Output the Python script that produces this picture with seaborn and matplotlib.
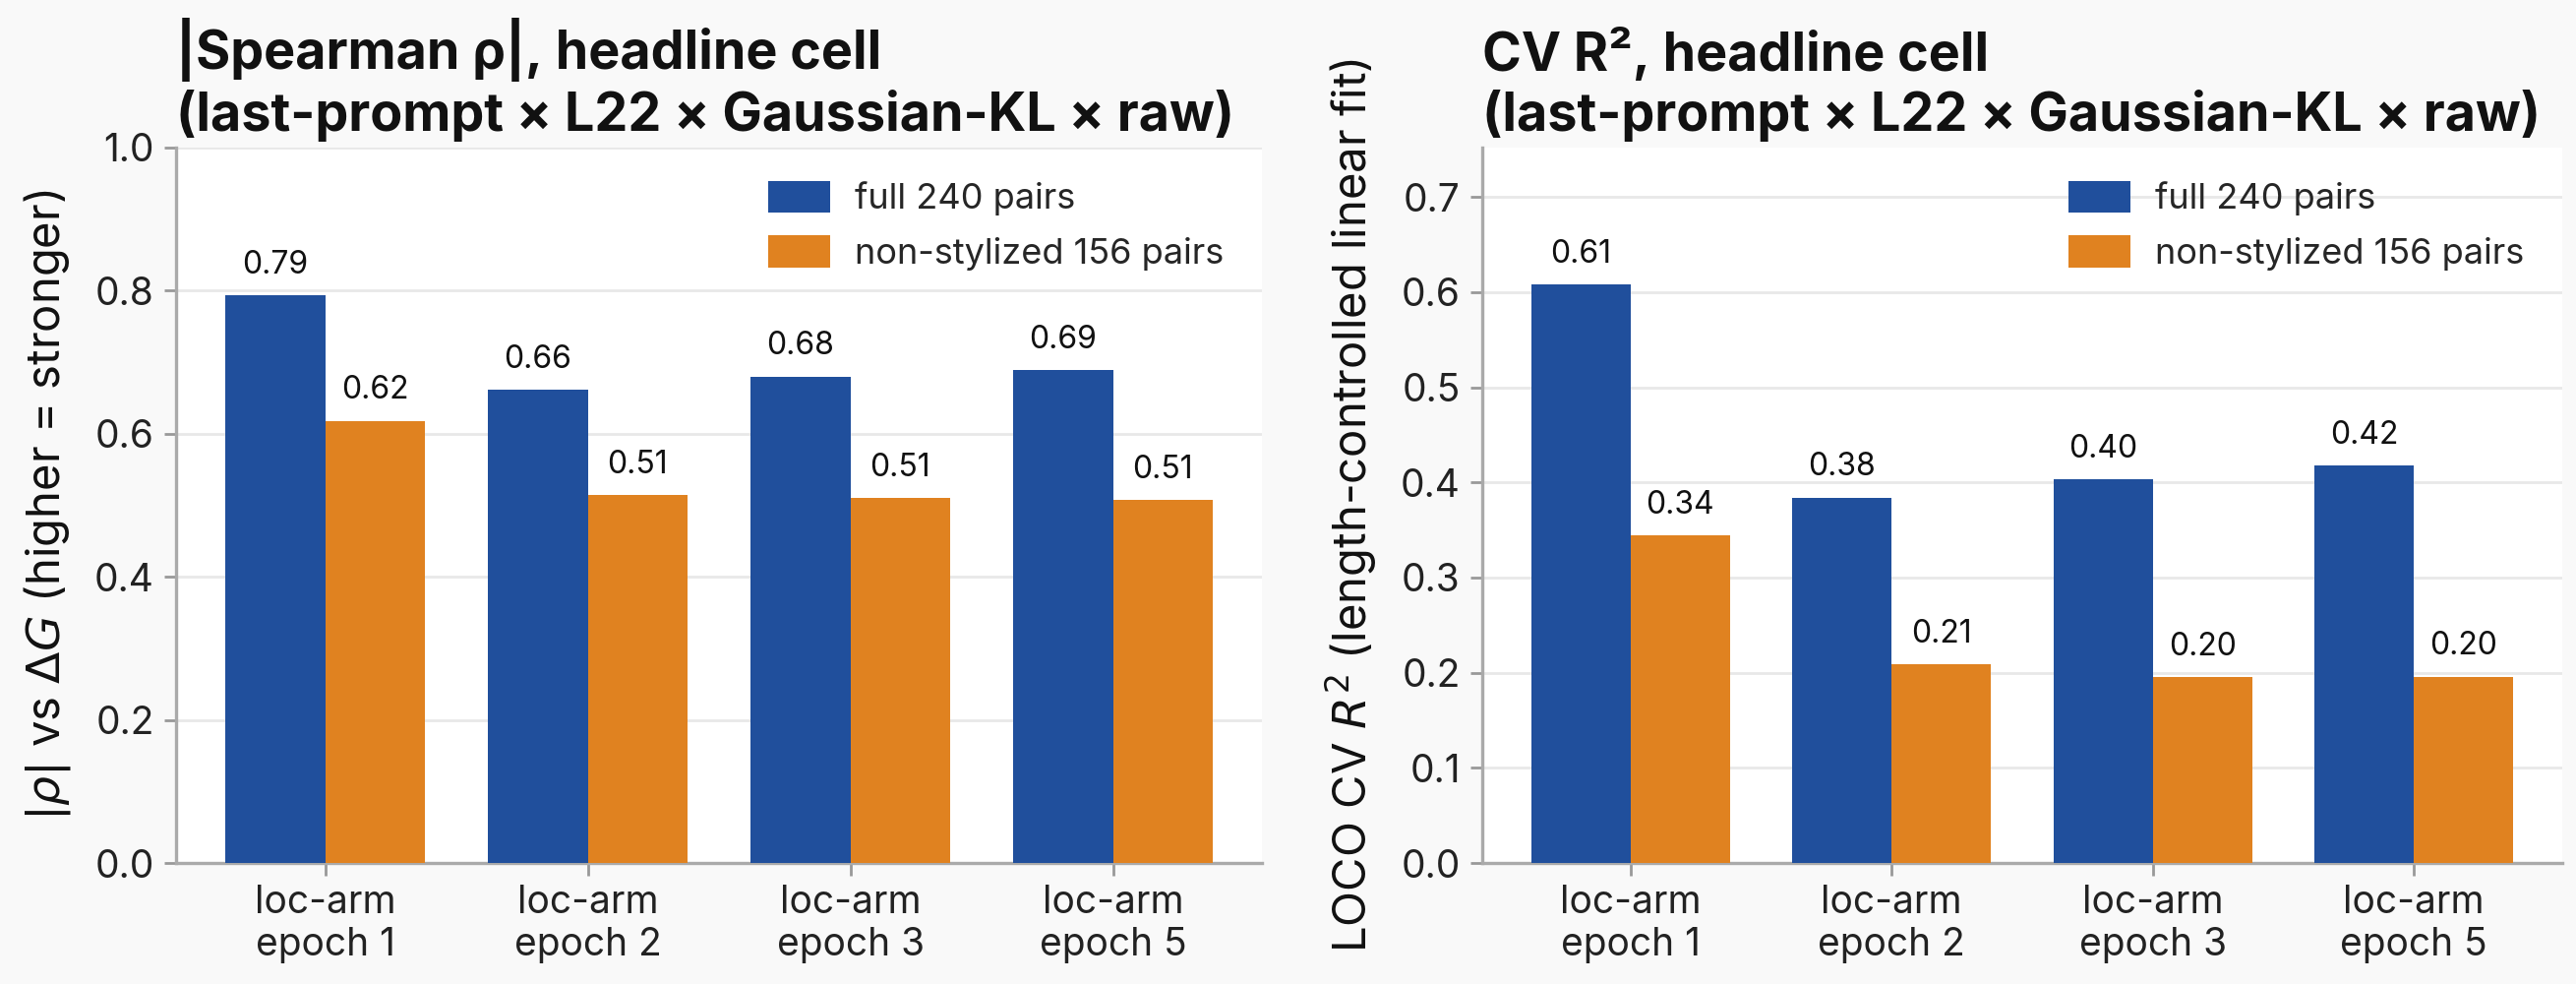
import matplotlib
matplotlib.use("Agg")
import matplotlib.pyplot as plt
import seaborn as sns
import pandas as pd

categories = ["loc-arm\nepoch 1", "loc-arm\nepoch 2", "loc-arm\nepoch 3", "loc-arm\nepoch 5"]
series_names = ["full 240 pairs", "non-stylized 156 pairs"]
rho_full = [0.793, 0.661, 0.680, 0.689]
rho_nonsty = [0.618, 0.514, 0.510, 0.507]
r2_full = [0.608, 0.384, 0.403, 0.418]
r2_nonsty = [0.344, 0.209, 0.195, 0.196]
colors = ["#204f9c", "#e08220"]

sns.set_theme(style="whitegrid")
plt.rcParams["font.family"] = ["Inter", "DejaVu Sans"]
plt.rcParams["mathtext.fontset"] = "dejavusans"

fig = plt.figure(figsize=(13.095, 5), dpi=200, facecolor="#f9f9f9")
axL = fig.add_axes([0.0683, 0.123, 0.4217, 0.727])
axR = fig.add_axes([0.5754, 0.123, 0.4193, 0.727])

def make_df(a, b):
    rows = []
    for c, v in zip(categories, a):
        rows.append((c, series_names[0], v))
    for c, v in zip(categories, b):
        rows.append((c, series_names[1], v))
    return pd.DataFrame(rows, columns=["cat", "series", "val"])

panels = [
    (axL, make_df(rho_full, rho_nonsty), 1.0, [0, 0.2, 0.4, 0.6, 0.8, 1.0],
     "|Spearman ρ|, headline cell\n(last-prompt × L22 × Gaussian-KL × raw)",
     r"$|\rho|$ vs $\Delta G$ (higher = stronger)"),
    (axR, make_df(r2_full, r2_nonsty), 0.752, [0, 0.1, 0.2, 0.3, 0.4, 0.5, 0.6, 0.7],
     "CV R², headline cell\n(last-prompt × L22 × Gaussian-KL × raw)",
     r"LOCO CV $R^2$ (length-controlled linear fit)"),
]

for ax, df, ytop, yt, title, ylabel in panels:
    ax.set_facecolor("white")
    sns.barplot(data=df, x="cat", y="val", hue="series", palette=colors,
                width=0.76, gap=0, saturation=1, ax=ax, errorbar=None, zorder=3,
                linewidth=0, edgecolor="none")
    for cont in ax.containers:
        for bar in cont:
            h = bar.get_height()
            ax.annotate(f"{h:.2f}", (bar.get_x() + bar.get_width() / 2, h),
                        xytext=(0, 5.5), textcoords="offset points",
                        ha="center", va="bottom", fontsize=11.5, color="#111111")
    ax.set_xlim(-0.568, 3.568)
    ax.set_ylim(0, ytop)
    ax.set_yticks(yt)
    ax.set_yticklabels([f"{v:.1f}" for v in yt])
    ax.set_xlabel("")
    ax.set_ylabel(ylabel, fontsize=17, color="#111111", labelpad=8)
    ax.set_title(title, loc="left", fontsize=19.4, fontweight="bold", color="#111111", pad=6)
    ax.grid(axis="y", color="#e8e8e8", linewidth=1, zorder=0)
    ax.grid(axis="x", visible=False)
    for s in ["top", "right"]:
        ax.spines[s].set_visible(False)
    for s in ["left", "bottom"]:
        ax.spines[s].set_color("#aaaaaa")
        ax.spines[s].set_linewidth(1.2)
    ax.tick_params(axis="both", which="both", length=4.5, width=1, color="#999999",
                   labelsize=14, labelcolor="#222222", left=True, bottom=True)
    leg = ax.legend(loc="upper right", bbox_to_anchor=(0.9945, 0.998), frameon=False,
                    fontsize=13.0, handlelength=1.75, handleheight=1.0,
                    labelspacing=0.55, handletextpad=0.7)

fig.savefig("out.png", dpi=200, facecolor=fig.get_facecolor())
